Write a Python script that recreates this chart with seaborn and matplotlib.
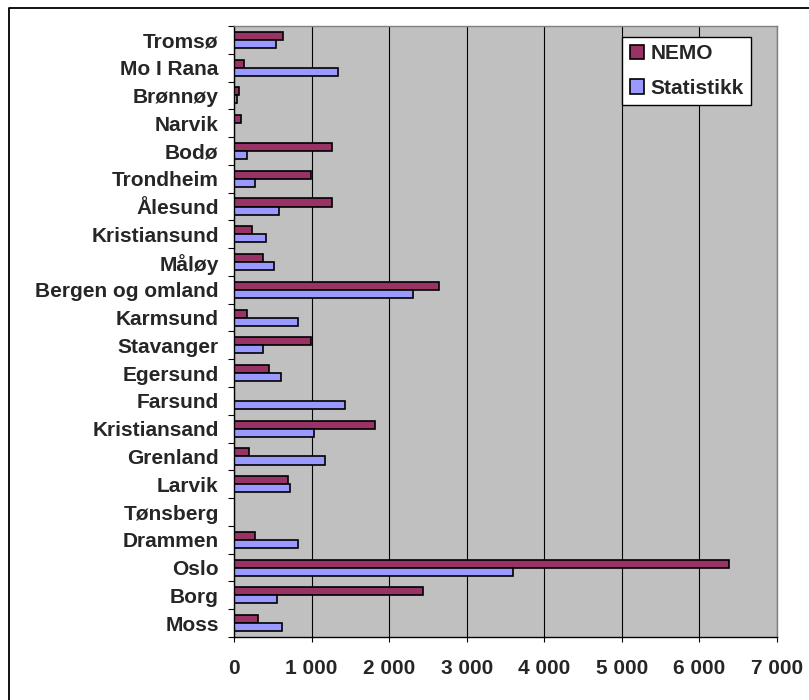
import matplotlib
matplotlib.use('Agg')
from matplotlib import pyplot as plt
from matplotlib.lines import Line2D
from matplotlib.ticker import FuncFormatter, FixedLocator
import seaborn as sns
import pandas as pd

cities = ['Tromsø', 'Mo I Rana', 'Brønnøy', 'Narvik', 'Bodø', 'Trondheim', 'Ålesund',
          'Kristiansund', 'Måløy', 'Bergen og omland', 'Karmsund', 'Stavanger', 'Egersund',
          'Farsund', 'Kristiansand', 'Grenland', 'Larvik', 'Tønsberg', 'Drammen', 'Oslo',
          'Borg', 'Moss']
nemo = [630, 130, 60, 90, 1270, 990, 1270, 230, 370, 2640, 170, 990, 450,
        0, 1820, 190, 700, 0, 270, 6380, 2440, 310]
statistikk = [540, 1340, 40, 0, 170, 270, 580, 410, 520, 2310, 820, 370, 600,
              1430, 1030, 1180, 720, 0, 830, 3600, 560, 620]
series = ['NEMO', 'Statistikk']
colors = {'NEMO': '#993366', 'Statistikk': '#9999FF'}

df = pd.DataFrame({
    'By': cities * 2,
    'Verdi': nemo + statistikk,
    'Serie': ['NEMO'] * len(cities) + ['Statistikk'] * len(cities),
})

sns.set_theme(style='white')
plt.rcParams['font.family'] = ['Liberation Sans', 'DejaVu Sans']
plt.rcParams['font.weight'] = 'bold'

fig = plt.figure(figsize=(8.09, 7.0), dpi=100)
ax = fig.add_axes([0.2892, 0.09, 0.6712, 0.8729])
ax.set_facecolor('#C0C0C0')

sns.barplot(data=df, x='Verdi', y='By', hue='Serie', order=cities, hue_order=series,
            palette=colors, orient='h', width=0.58, edgecolor='black', linewidth=1.2,
            saturation=1, ax=ax)

ax.set_xlim(0, 7000)
ax.set_ylim(len(cities) - 0.5, -0.5)
ax.set_xticks(range(0, 7001, 1000))
ax.xaxis.set_major_formatter(FuncFormatter(lambda v, p: f'{int(v):,}'.replace(',', ' ')))
ax.grid(axis='x', color='black', linewidth=0.8)
ax.grid(axis='y', visible=False)
ax.set_axisbelow(True)

ax.set_xlabel('')
ax.set_ylabel('')
ax.tick_params(axis='x', which='major', direction='out', length=3.6, width=0.8,
               color='black', pad=12, labelsize=15, bottom=True)
ax.tick_params(axis='y', which='major', length=0, pad=11, labelsize=15, left=True)
ax.yaxis.set_minor_locator(FixedLocator([i - 0.5 for i in range(len(cities) + 1)]))
ax.tick_params(axis='y', which='minor', direction='out', length=4.3, width=0.8,
               color='black', left=True)
for lab in ax.get_xticklabels() + ax.get_yticklabels():
    lab.set_fontweight('bold')

for side in ['left', 'bottom']:
    ax.spines[side].set_color('black')
    ax.spines[side].set_linewidth(1.0)
for side in ['top', 'right']:
    ax.spines[side].set_color('#808080')
    ax.spines[side].set_linewidth(1.0)

ax.legend(title=None, loc='upper left', bbox_to_anchor=(0.715, 0.982), borderaxespad=0,
          frameon=True, fancybox=False, framealpha=1, edgecolor='black',
          handlelength=0.7, handleheight=0.7, handletextpad=0.3, borderpad=0.35,
          labelspacing=0.75, prop={'weight': 'bold', 'size': 15})
ax.get_legend().get_frame().set_linewidth(1.0)

# outer chart border (top and left visible)
fig.add_artist(Line2D([9 / 809, 9 / 809, 1.0], [0.0, 1 - 8 / 700, 1 - 8 / 700],
                      transform=fig.transFigure, color='black', linewidth=1.3))

fig.savefig('out.png', dpi=100)
